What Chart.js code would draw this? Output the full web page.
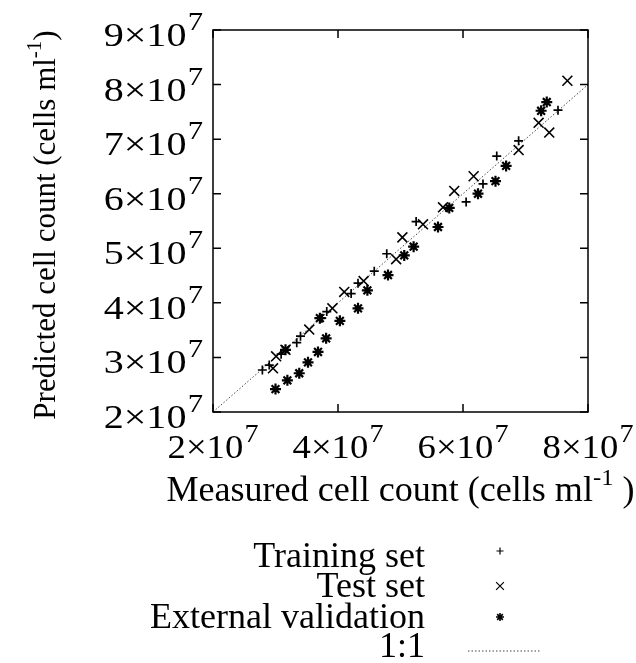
<!DOCTYPE html>
<html>
<head>
<meta charset="utf-8">
<script src="https://cdn.jsdelivr.net/npm/chart.js@4.4.1/dist/chart.umd.min.js"></script>
<style>
  html, body { margin: 0; padding: 0; background: #fff; }
</style>
</head>
<body>
<canvas id="myChart" width="636" height="663"></canvas>
<script>
// cell counts in units of 10^7 cells/ml
const trainMeasured = [2.79, 2.90, 3.09, 3.34, 3.40, 3.74, 3.82, 4.21, 4.32, 4.58, 4.78, 5.25, 6.05, 6.32, 6.54, 6.89, 7.52];
const trainPredicted = [2.77, 2.86, 3.06, 3.27, 3.39, 3.72, 3.84, 4.17, 4.36, 4.58, 4.90, 5.49, 5.85, 6.18, 6.69, 6.97, 7.53];

const testMeasured = [2.96, 3.01, 3.16, 3.54, 3.91, 4.10, 4.41, 4.93, 5.03, 5.36, 5.68, 5.86, 6.17, 6.89, 7.21, 7.38, 7.67];
const testPredicted = [2.80, 3.02, 3.14, 3.51, 3.90, 4.20, 4.40, 4.80, 5.20, 5.44, 5.75, 6.05, 6.32, 6.80, 7.30, 7.12, 8.07];

const extMeasured = [3.00, 3.19, 3.38, 3.52, 3.68, 3.81, 4.03, 4.32, 4.47, 4.80, 5.06, 5.21, 5.60, 5.78, 6.24, 6.52, 6.69, 7.25, 7.34, 3.16, 3.71];
const extPredicted = [2.42, 2.58, 2.71, 2.91, 3.10, 3.35, 3.67, 3.90, 4.23, 4.51, 4.87, 5.03, 5.39, 5.74, 6.00, 6.23, 6.51, 7.52, 7.68, 3.14, 3.72];

const oneToOne = [2, 8];

const labels = ["Training set", "Test set", "External validation", "1:1"];
const tickExp = "7";
const xTitle = ["Measured cell count (cells ml", "-1", " )"];
const yTitle = ["Predicted cell count (cells ml", "-1", ")"];

const serif = "'Liberation Serif', 'Times New Roman', serif";

function pairs(xs, ys) {
  return xs.map((x, i) => ({ x: x, y: ys[i] }));
}

// "n×10" with a raised exponent, a little wider like the scanned figure
function drawPow(ctx, mant, px, baseline, align, sx) {
  const main = mant + "\u00D710";
  ctx.font = "34px " + serif;
  const mw = ctx.measureText(main).width;
  ctx.font = "26px " + serif;
  const sw = ctx.measureText(tickExp).width;
  const total = (mw + sw + 1) * sx;
  const left = align === "center" ? px - total / 2 : px - total;
  ctx.save();
  ctx.translate(left, baseline);
  ctx.scale(sx, 1);
  ctx.textAlign = "left";
  ctx.textBaseline = "alphabetic";
  ctx.font = "34px " + serif;
  ctx.fillText(main, 0, 0);
  ctx.font = "26px " + serif;
  ctx.fillText(tickExp, mw + 1, -16);
  ctx.restore();
}

// title text with the "-1" raised, centred on (0, 0) of the current transform
function drawTitle(ctx, parts, size, sx) {
  const supSize = Math.round(size * 0.68);
  ctx.font = size + "px " + serif;
  const w0 = ctx.measureText(parts[0]).width;
  const w2 = ctx.measureText(parts[2]).width;
  ctx.font = supSize + "px " + serif;
  const w1 = ctx.measureText(parts[1]).width;
  const total = w0 + w1 + w2;
  ctx.save();
  ctx.scale(sx, 1);
  ctx.textAlign = "left";
  ctx.textBaseline = "alphabetic";
  let x = -total / 2;
  ctx.font = size + "px " + serif;
  ctx.fillText(parts[0], x, 0);
  x += w0;
  ctx.font = supSize + "px " + serif;
  ctx.fillText(parts[1], x, -Math.round(size * 0.45));
  x += w1;
  ctx.font = size + "px " + serif;
  ctx.fillText(parts[2], x, 0);
  ctx.restore();
}

const textPlugin = {
  id: "axisText",
  afterDraw(chart) {
    const { ctx, chartArea: a, scales } = chart;
    ctx.save();
    ctx.fillStyle = "#000";
    scales.x.ticks.forEach((t) => {
      drawPow(ctx, t.value, scales.x.getPixelForValue(t.value), scales.x.top + 46, "center", 1.08);
    });
    scales.y.ticks.forEach((t) => {
      drawPow(ctx, t.value, scales.y.right - 10, scales.y.getPixelForValue(t.value) + 16, "right", 1.18);
    });
    ctx.save();
    ctx.translate((a.left + a.right) / 2, scales.x.top + 89);
    drawTitle(ctx, xTitle, 35, 1.03);
    ctx.restore();
    ctx.save();
    ctx.translate(55, (a.top + a.bottom) / 2 + 4);
    ctx.rotate(-Math.PI / 2);
    drawTitle(ctx, yTitle, 31, 1);
    ctx.restore();
    ctx.restore();
  },
};

// box round the plot with gnuplot style inward ticks
const framePlugin = {
  id: "frame",
  afterDatasetsDraw(chart) {
    const { ctx, chartArea: a, scales } = chart;
    ctx.save();
    ctx.strokeStyle = "#000";
    ctx.lineWidth = 1.5;
    ctx.strokeRect(a.left, a.top, a.right - a.left, a.bottom - a.top);
    ctx.beginPath();
    scales.x.ticks.forEach((t) => {
      const px = scales.x.getPixelForValue(t.value);
      ctx.moveTo(px, a.bottom);
      ctx.lineTo(px, a.bottom - 8);
      ctx.moveTo(px, a.top);
      ctx.lineTo(px, a.top + 8);
    });
    scales.y.ticks.forEach((t) => {
      const py = scales.y.getPixelForValue(t.value);
      ctx.moveTo(a.left, py);
      ctx.lineTo(a.left + 8, py);
      ctx.moveTo(a.right, py);
      ctx.lineTo(a.right - 8, py);
    });
    ctx.stroke();
    ctx.restore();
  },
};

// legend under the plot: text right aligned, sample on the right
const legendPlugin = {
  id: "bottomLegend",
  afterDraw(chart) {
    const ctx = chart.ctx;
    const baselines = [567, 597, 628, 657];
    const marks = [551, 586, 617, 651];
    ctx.save();
    ctx.font = "36px " + serif;
    ctx.fillStyle = "#000";
    ctx.strokeStyle = "#000";
    ctx.textAlign = "right";
    ctx.textBaseline = "alphabetic";
    chart.data.datasets.forEach((ds, i) => {
      ctx.fillText(ds.label, 425, baselines[i]);
      if (ds.type === "line") {
        ctx.save();
        ctx.strokeStyle = ds.borderColor;
        ctx.lineWidth = 1;
        ctx.setLineDash(ds.borderDash);
        ctx.beginPath();
        ctx.moveTo(468, marks[i]);
        ctx.lineTo(541, marks[i]);
        ctx.stroke();
        ctx.restore();
      } else {
        ctx.lineWidth = ds.legendWidth;
        Chart.helpers.drawPoint(ctx, { pointStyle: ds.pointStyle, radius: ds.legendRadius, borderWidth: ds.legendWidth, rotation: 0 }, 500, marks[i]);
      }
    });
    ctx.restore();
  },
};

const ctx = document.getElementById("myChart").getContext("2d");
new Chart(ctx, {
  type: "scatter",
  data: {
    datasets: [
      {
        label: labels[0],
        data: pairs(trainMeasured, trainPredicted),
        pointStyle: "cross",
        pointRadius: 4.5,
        borderColor: "#000",
        borderWidth: 1.7,
        legendRadius: 3.5,
        legendWidth: 1.2,
      },
      {
        label: labels[1],
        data: pairs(testMeasured, testPredicted),
        pointStyle: "crossRot",
        pointRadius: 7,
        borderColor: "#000",
        borderWidth: 1.6,
        legendRadius: 5.5,
        legendWidth: 1.2,
      },
      {
        label: labels[2],
        data: pairs(extMeasured, extPredicted),
        pointStyle: "star",
        pointRadius: 5.5,
        borderColor: "#000",
        borderWidth: 2.2,
        legendRadius: 4,
        legendWidth: 1.6,
      },
      {
        type: "line",
        label: labels[3],
        data: pairs(oneToOne, oneToOne),
        borderColor: "#444",
        borderWidth: 1,
        borderDash: [1.5, 2],
        pointRadius: 0,
        fill: false,
        order: 10,
      },
    ],
  },
  options: {
    responsive: false,
    animation: false,
    events: [],
    layout: { padding: { left: 0, right: 48, top: 30, bottom: 151 } },
    plugins: { legend: { display: false }, tooltip: { enabled: false } },
    scales: {
      x: {
        type: "linear",
        min: 2,
        max: 8,
        ticks: { stepSize: 2, display: false },
        grid: { display: false, drawTicks: false },
        border: { display: false },
        afterFit: (scale) => { scale.height = 100; },
      },
      y: {
        type: "linear",
        min: 2,
        max: 9,
        ticks: { stepSize: 1, display: false },
        grid: { display: false, drawTicks: false },
        border: { display: false },
        afterFit: (scale) => { scale.width = 213; },
      },
    },
  },
  plugins: [framePlugin, textPlugin, legendPlugin],
});
</script>
</body>
</html>
